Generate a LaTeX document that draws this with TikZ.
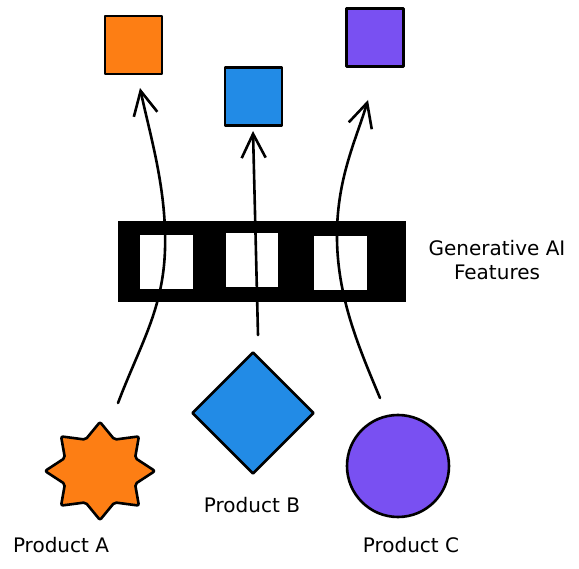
\documentclass[tikz,border=0pt]{standalone}
\usepackage{fontspec}
\setmainfont{DejaVu Sans}
\usetikzlibrary{shapes.geometric,arrows.meta}
\definecolor{cOrange}{HTML}{FD7E14}
\definecolor{cBlue}{HTML}{228BE6}
\definecolor{cPurple}{HTML}{7950F2}
\tikzset{
  outl/.style={draw=black, line width=2.6pt, line join=round},
  sq/.style={outl, rectangle, minimum width=57pt, minimum height=58pt, inner sep=0pt},
  win/.style={rectangle, fill=white, draw=black, line width=1pt, minimum width=54pt, minimum height=55pt, inner sep=0pt},
  conn/.style={draw=black, line width=2.6pt, line cap=round, -{Straight Barb[length=24pt,width=24pt,line width=2.6pt]}},
  lbl/.style={font=\fontsize{20}{24}\selectfont, inner sep=0pt, align=center}
}
\begin{document}
\begin{tikzpicture}[x=1pt,y=-1pt]
\useasboundingbox (0,0) rectangle (579,569);
% top squares
\node[sq, fill=cOrange] (sqA) at (133.5,45) {};
\node[sq, fill=cBlue] (sqB) at (253.5,96.5) {};
\node[sq, fill=cPurple] (sqC) at (375,37.5) {};
% bar
\node[rectangle, fill=black, draw=black, line width=1pt, minimum width=287pt, minimum height=80pt, inner sep=0pt] (bar) at (261.5,262) {};
\node[win] (w1) at (166,262.5) {};
\node[win, minimum width=53pt] (w2) at (251.5,260) {};
\node[win] (w3) at (340.5,263.5) {};
% bottom shapes
\coordinate (Ac) at (100,471);
\draw[outl, fill=cOrange, rounded corners=2pt] (100,422) -- (114.5,439.6) -- (138.9,436.4) -- (135.1,458.0) -- (155,471) -- (135.1,484.0) -- (138.9,505.6) -- (114.5,502.4) -- (100,520) -- (85.5,502.4) -- (61.1,505.6) -- (64.9,484.0) -- (45,471) -- (64.9,458.0) -- (61.1,436.4) -- (85.5,439.6) -- cycle;
\node[outl, diamond, fill=cBlue, minimum width=122pt, minimum height=122pt, inner sep=0pt] (B) at (253,413) {};
\node[outl, circle, fill=cPurple, minimum size=102pt, inner sep=0pt] (C) at (398,466) {};
% labels
\node[lbl] (lA) at (61,545) {Product A};
\node[lbl] (lB) at (252,505) {Product B};
\node[lbl] (lC) at (411,545) {Product C};
\node[lbl] (lG) at (497,260) {Generative AI\\Features};
% connector end points
\coordinate (a0) at (118,403);
\coordinate (a1) at (165,250);
\coordinate (a2) at (140,88);
\coordinate (b0) at (258,335);
\coordinate (b1) at (253,131);
\coordinate (c0) at (380,398);
\coordinate (c1) at (337,240);
\coordinate (c2) at (368,100);
\draw[conn] (a0) .. controls (140,345) and (163,310) .. (a1) .. controls (167,190) and (150,135) .. (a2);
\draw[conn] (b0) -- (b1);
\draw[conn] (c0) .. controls (360,350) and (338,300) .. (c1) .. controls (336,180) and (356,140) .. (c2);
\end{tikzpicture}
\end{document}
